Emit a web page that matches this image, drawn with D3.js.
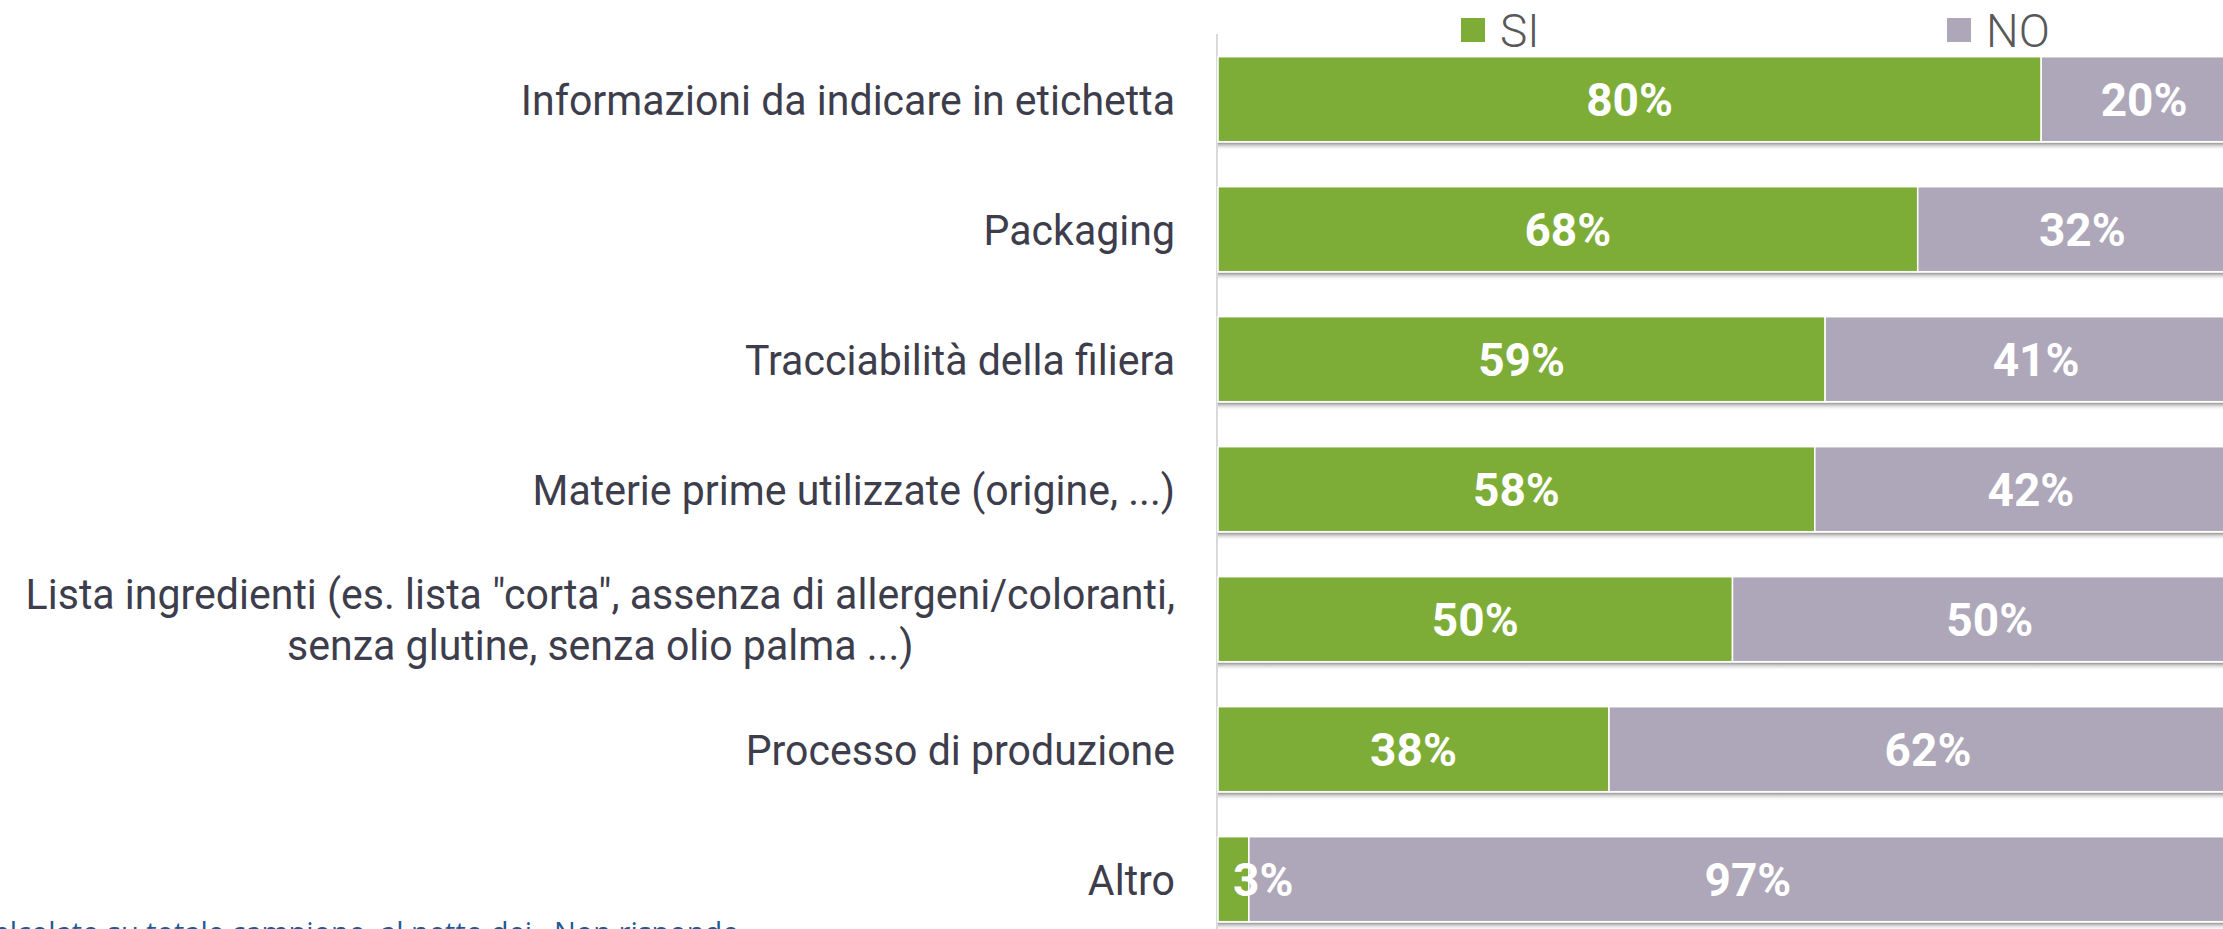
<!DOCTYPE html>
<html>
<head>
<meta charset="utf-8">
<script src="https://cdn.jsdelivr.net/npm/d3@7"></script>
<style>
  body { margin: 0; background: #fff; }
  svg { display: block; }
</style>
</head>
<body>
<svg id="chart" width="2223" height="929"></svg>
<script>
const categories = [
  "Informazioni da indicare in etichetta",
  "Packaging",
  "Tracciabilità della filiera",
  "Materie prime utilizzate (origine, ...)",
  "Lista ingredienti (es. lista \"corta\", assenza di allergeni/coloranti,\nsenza glutine, senza olio palma ...)",
  "Processo di produzione",
  "Altro"
];
const siValues = [80, 68, 59, 58, 50, 38, 3];
const noValues = [20, 32, 41, 42, 50, 62, 97];
const seriesNames = ["SI", "NO"];
const footnote = "Calcolato su totale campione, al netto dei «Non risponde»";

const colors = { SI: "#7dad37", NO: "#aea7b9" };

const svg = d3.select("#chart");

const rows = categories.map((c, i) => ({ i, label: c, SI: siValues[i], NO: noValues[i] }));

const x = d3.scaleLinear().domain([0, 100]).range([1218, 2247]);
const y = d3.scaleBand()
  .domain(d3.range(categories.length))
  .range([56.7, 921.7])
  .paddingInner(0.346)
  .paddingOuter(0);

// shadow gradient under each bar
const grad = svg.append("defs").append("linearGradient")
  .attr("id", "shadow")
  .attr("x1", 0).attr("x2", 0).attr("y1", 0).attr("y2", 1);
grad.append("stop").attr("offset", "0%").attr("stop-color", "#8a8a8a").attr("stop-opacity", 0.95);
grad.append("stop").attr("offset", "100%").attr("stop-color", "#ffffff").attr("stop-opacity", 0);

// vertical axis line
svg.append("line")
  .attr("x1", 1217).attr("x2", 1217)
  .attr("y1", 34).attr("y2", 929)
  .attr("stroke", "#d9d9d9")
  .attr("stroke-width", 2);

svg.selectAll("rect.shadow")
  .data(rows)
  .join("rect")
  .attr("class", "shadow")
  .attr("x", x(0))
  .attr("y", d => y(d.i) + y.bandwidth() + 1)
  .attr("width", x(100) - x(0))
  .attr("height", 8)
  .attr("fill", "url(#shadow)");

const segs = rows.flatMap(d => [
  { i: d.i, key: "SI", v: d.SI, x0: 0, x1: d.SI },
  { i: d.i, key: "NO", v: d.NO, x0: d.SI, x1: d.SI + d.NO }
]);

svg.selectAll("rect.bar")
  .data(segs)
  .join("rect")
  .attr("class", "bar")
  .attr("x", d => x(d.x0))
  .attr("y", d => y(d.i))
  .attr("width", d => x(d.x1) - x(d.x0))
  .attr("height", y.bandwidth())
  .attr("fill", d => colors[d.key])
  .attr("stroke", "#fff")
  .attr("stroke-width", 1.5);

// value labels
svg.selectAll("text.val")
  .data(segs)
  .join("text")
  .attr("class", "val")
  .attr("x", d => {
    const w = x(d.x1) - x(d.x0);
    return w < 70 ? x(d.x0) + 15 : (x(d.x0) + x(d.x1)) / 2;
  })
  .attr("y", d => y(d.i) + y.bandwidth() / 2)
  .attr("dy", "0.36em")
  .attr("text-anchor", d => (x(d.x1) - x(d.x0)) < 70 ? "start" : "middle")
  .style("font-family", "Roboto, sans-serif")
  .style("font-weight", 700)
  .style("font-size", "46px")
  .attr("fill", "#fff")
  .text(d => d.v + "%");

// category labels (multi-line blocks centred on their longest line),
// squeezed a little horizontally to mimic the condensed original face
const labelRight = 1175;
const lineGap = 51;
const squeeze = 0.955;
rows.forEach(d => {
  const lines = d.label.split("\n");
  const cy = y(d.i) + y.bandwidth() / 2;
  const g = svg.append("g")
    .attr("transform", `translate(${labelRight},${cy}) scale(${squeeze},1)`);
  const texts = lines.map((ln, k) => g.append("text")
    .attr("y", (k - (lines.length - 1) / 2) * lineGap)
    .attr("dy", "0.36em")
    .style("font-family", "Roboto, sans-serif")
    .style("font-size", "43px")
    .attr("fill", "#3d3d4c")
    .text(ln));
  if (lines.length === 1) {
    texts[0].attr("x", 0).attr("text-anchor", "end");
  } else {
    const maxW = d3.max(texts, t => t.node().getComputedTextLength());
    texts.forEach(t => t.attr("x", -maxW / 2).attr("text-anchor", "middle"));
  }
});

// legend
const legendX = [1461, 1947];
seriesNames.forEach((s, k) => {
  svg.append("rect")
    .attr("x", legendX[k]).attr("y", 18)
    .attr("width", 24).attr("height", 24)
    .attr("fill", colors[s]);
  svg.append("text")
    .attr("x", legendX[k] + 39).attr("y", 47)
    .style("font-family", "Roboto, sans-serif")
    .style("font-weight", 300)
    .style("font-size", "46px")
    .attr("fill", "#595959")
    .text(s);
});

// footnote, partly cut by the page edges as in the original
svg.append("text")
  .attr("x", 753).attr("y", 943)
  .attr("text-anchor", "end")
  .style("font-family", "'Open Sans', sans-serif")
  .style("font-size", "29px")
  .attr("fill", "#1f5a96")
  .text(footnote);
</script>
</body>
</html>
